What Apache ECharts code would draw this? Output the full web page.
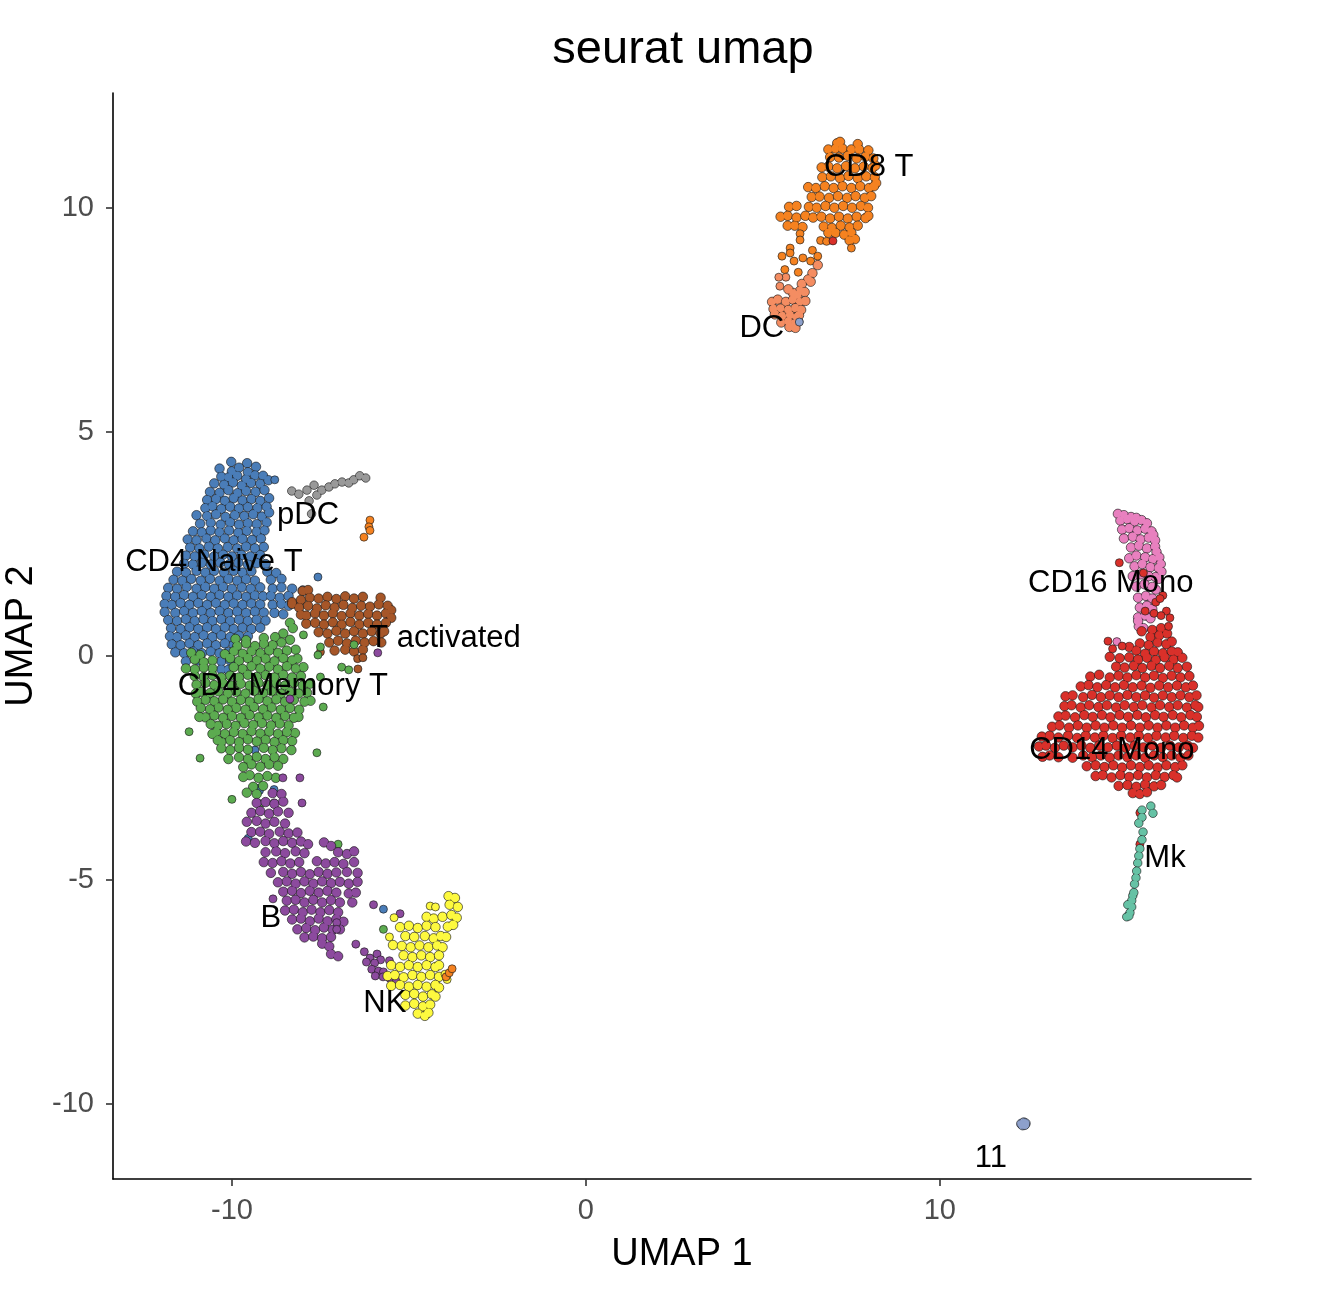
<!DOCTYPE html>
<html><head><meta charset="utf-8"><title>seurat umap</title>
<script src="https://cdn.jsdelivr.net/npm/echarts@6/dist/echarts.min.js"></script>
<style>html,body{margin:0;padding:0;background:#fff}#c{width:1338px;height:1304px;filter:blur(0.7px)}</style></head>
<body><div id="c"></div>
<script>
const titleText = 'seurat umap';
const xTicks = [-10, 0, 10];
const yTicks = [-10, -5, 0, 5, 10];
const labelNames = ['pDC','CD4 Naive T','T activated','CD4 Memory T','B','NK','DC','CD8 T','CD16 Mono','CD14 Mono','Mk','11'];
const labelX = [-7.85,-10.51,-3.98,-8.56,-8.9,-5.68,4.97,7.99,14.83,14.86,16.36,11.44];
const labelY = [3.13,2.08,0.38,-0.69,-5.86,-7.76,7.3,10.89,1.61,-2.11,-4.52,-11.22];

const cd4Naive = [[-10.02,4.33],[-9.57,4.3],[-9.32,4.22],[-10.35,4.18],[-10.0,4.12],[-9.8,4.2],[-9.55,4.1],[-10.3,4.0],[-10.1,3.98],[-9.85,4.02],[-9.6,3.94],[-9.35,4.03],[-9.12,4.02],
[-10.5,3.85],[-10.22,3.82],[-9.97,3.87],[-9.72,3.8],[-9.46,3.86],[-9.2,3.84],[-8.97,3.92],[-10.62,3.66],[-10.35,3.64],[-10.1,3.7],[-9.84,3.63],[-9.6,3.68],[-9.33,3.66],[-9.08,3.7],
[-10.7,3.48],[-10.45,3.5],[-10.2,3.46],[-9.95,3.52],[-9.7,3.47],[-9.45,3.5],[-9.2,3.46],[-8.95,3.52],[-10.75,3.3],[-10.55,3.34],[-10.3,3.28],[-10.05,3.33],[-9.8,3.29],[-9.55,3.32],[-9.28,3.3],[-9.02,3.33],
[-11.0,3.14],[-10.7,3.12],[-10.45,3.16],[-10.18,3.1],[-9.92,3.14],[-9.65,3.12],[-9.4,3.16],[-9.15,3.11],[-8.95,3.2],[-10.9,2.95],[-10.6,2.97],[-10.32,2.93],[-10.05,2.98],[-9.8,2.93],[-9.55,2.96],[-9.3,2.94],[-9.02,2.98],
[-11.1,2.78],[-10.85,2.76],[-10.6,2.8],[-10.35,2.76],[-10.08,2.8],[-9.82,2.75],[-9.58,2.79],[-9.3,2.77],[-9.08,2.8],[-11.25,2.6],[-11.0,2.58],[-10.72,2.62],[-10.47,2.58],[-10.2,2.62],[-9.95,2.58],[-9.7,2.61],[-9.43,2.59],[-9.18,2.62],
[-11.18,2.42],[-10.92,2.4],[-10.65,2.44],[-10.4,2.4],[-10.12,2.43],[-9.85,2.4],[-9.6,2.44],[-9.35,2.4],[-9.1,2.43],[-11.3,2.24],[-11.05,2.22],[-10.78,2.26],[-10.5,2.22],[-10.25,2.26],[-10.0,2.22],[-9.73,2.25],[-9.48,2.22],[-9.2,2.25],
[-11.35,2.06],[-11.1,2.04],[-10.85,2.08],[-10.6,2.04],[-10.33,2.08],[-10.08,2.04],[-9.82,2.08],[-9.55,2.04],[-9.3,2.07],[-9.05,2.05],[-11.55,1.88],[-11.3,1.86],[-11.0,1.9],[-10.75,1.86],[-10.5,1.9],[-10.22,1.86],[-9.95,1.9],[-9.7,1.86],[-9.45,1.89],[-9.0,1.88],[-8.75,1.85],
[-11.65,1.7],[-11.4,1.68],[-11.15,1.72],[-10.88,1.68],[-10.62,1.72],[-10.35,1.68],[-10.1,1.72],[-9.85,1.68],[-9.6,1.71],[-9.35,1.68],[-8.9,1.7],[-8.6,1.72],
[-11.8,1.52],[-11.55,1.5],[-11.28,1.54],[-11.0,1.5],[-10.75,1.54],[-10.5,1.5],[-10.25,1.54],[-10.0,1.5],[-9.72,1.53],[-9.47,1.5],[-9.2,1.53],[-8.85,1.5],[-8.6,1.53],[-8.3,1.5],[-8.0,1.46],
[-11.85,1.34],[-11.6,1.32],[-11.35,1.36],[-11.1,1.32],[-10.85,1.36],[-10.6,1.32],[-10.35,1.36],[-10.1,1.32],[-9.85,1.35],[-9.6,1.32],[-9.35,1.35],[-9.12,1.33],[-8.9,1.34],[-8.65,1.3],[-8.4,1.34],
[-11.9,1.16],[-11.7,1.14],[-11.45,1.18],[-11.2,1.14],[-10.95,1.18],[-10.7,1.14],[-10.45,1.18],[-10.2,1.14],[-9.95,1.17],[-9.7,1.14],[-9.45,1.17],[-9.2,1.15],[-8.85,1.14],[-8.6,1.16],[-8.4,1.12],
[-11.9,0.98],[-11.6,0.96],[-11.35,1.0],[-11.1,0.96],[-10.85,1.0],[-10.6,0.96],[-10.35,1.0],[-10.1,0.96],[-9.85,0.99],[-9.6,0.96],[-9.35,0.99],[-9.1,0.97],[-8.8,0.96],[-8.55,0.93],
[-11.8,0.8],[-11.55,0.78],[-11.3,0.82],[-11.05,0.78],[-10.8,0.82],[-10.55,0.78],[-10.3,0.82],[-10.05,0.78],[-9.8,0.81],[-9.55,0.78],[-9.3,0.81],[-9.05,0.79],
[-11.72,0.62],[-11.45,0.6],[-11.2,0.64],[-10.95,0.6],[-10.7,0.64],[-10.45,0.6],[-10.2,0.64],[-9.95,0.6],[-9.7,0.63],[-9.45,0.6],[-9.2,0.63],[-11.75,0.44],[-11.55,0.42],[-11.3,0.46],[-11.05,0.42],[-10.8,0.46],[-10.55,0.42],[-10.3,0.46],[-10.05,0.42],[-9.8,0.45],[-9.55,0.44],
[-11.7,0.26],[-11.45,0.24],[-11.2,0.28],[-10.95,0.24],[-10.7,0.28],[-10.45,0.24],[-10.2,0.28],[-9.95,0.25],[-11.6,0.08],[-11.35,0.06],[-11.1,0.1],[-10.85,0.06],[-10.6,0.1],[-10.35,0.06],[-10.1,0.09],[-11.3,-0.12],[-10.95,-0.1],[-10.3,-0.12],[-10.05,-0.1],[-10.3,-0.3],[-10.1,-0.31]];
const cd4NaiveStray = [[-8.79,3.93],[-7.57,1.76],[-9.35,-2.1],[-9.3,-2.95],[-9.22,-3.0],[-9.54,-4.07],[-5.72,-5.65],[-8.81,-2.98]];

const tActivated = [[-8.0,1.45],[-7.85,1.47],[-8.3,1.2],[-8.05,1.25],[-7.8,1.3],[-7.55,1.28],[-7.3,1.32],[-7.05,1.27],[-6.8,1.33],[-6.55,1.28],[-6.3,1.32],[-5.8,1.3],
[-8.3,1.16],[-8.1,1.08],[-7.85,1.12],[-7.6,1.06],[-7.35,1.13],[-7.1,1.08],[-6.85,1.14],[-6.6,1.07],[-6.35,1.12],[-6.1,1.1],[-5.85,1.15],[-5.6,1.12],[-5.5,1.02],
[-8.05,0.92],[-7.9,0.9],[-7.65,0.95],[-7.4,0.9],[-7.15,0.95],[-6.9,0.89],[-6.65,0.95],[-6.4,0.9],[-6.15,0.94],[-5.9,0.9],[-5.65,0.95],[-5.5,0.85],
[-7.9,0.72],[-7.65,0.74],[-7.4,0.7],[-7.15,0.75],[-6.9,0.7],[-6.65,0.76],[-6.4,0.7],[-6.15,0.74],[-5.9,0.7],[-5.65,0.74],[-7.55,0.53],[-7.3,0.5],[-7.05,0.56],[-6.8,0.5],[-6.55,0.55],[-6.3,0.5],[-6.05,0.55],[-5.8,0.5],[-5.7,0.55],
[-7.25,0.3],[-7.0,0.34],[-6.75,0.28],[-6.5,0.34],[-6.25,0.3],[-6.0,0.33],[-5.78,0.3],[-7.1,0.12],[-6.8,0.14],[-6.55,0.1],[-6.3,0.14]];
const tActivatedStray = [[-6.45,-0.06],[-6.3,-0.04],[-6.44,-0.29],[-7.5,0.09]];

const pDC = [[-8.31,3.68],[-8.11,3.61],[-7.88,3.7],[-7.68,3.81],[-7.6,3.59],[-7.46,3.7],[-7.26,3.77],[-7.09,3.84],[-6.89,3.88],[-6.7,3.86],[-6.56,3.93],[-6.39,4.02],[-6.22,3.97],[-7.82,3.46],[-7.75,3.17]];

const cd4Memory = [[-8.36,0.74],[-8.28,0.62],[-8.55,0.5],[-8.78,0.42],[-9.1,0.4],[-9.6,0.35],[-9.9,0.38],[-8.36,0.36],[-8.6,0.3],[-8.85,0.24],[-9.1,0.27],[-9.35,0.22],[-9.6,0.28],[-9.85,0.22],
[-8.2,0.14],[-8.45,0.12],[-8.7,0.07],[-8.95,0.12],[-9.2,0.06],[-9.45,0.1],[-9.7,0.05],[-9.95,0.1],[-10.2,0.04],[-10.9,0.02],[-11.15,0.07],
[-8.15,-0.06],[-8.3,-0.1],[-8.55,-0.05],[-8.8,-0.12],[-9.05,-0.06],[-9.3,-0.1],[-9.55,-0.05],[-9.8,-0.11],[-10.05,-0.05],[-10.55,-0.1],[-10.8,-0.14],[-11.05,-0.08],
[-7.98,-0.25],[-8.2,-0.28],[-8.45,-0.23],[-8.7,-0.3],[-8.95,-0.24],[-9.2,-0.28],[-9.45,-0.23],[-9.7,-0.29],[-9.95,-0.25],[-10.55,-0.28],[-10.8,-0.26],[-11.05,-0.3],[-11.3,-0.28],
[-8.05,-0.45],[-8.3,-0.48],[-8.55,-0.42],[-8.8,-0.48],[-9.05,-0.43],[-9.3,-0.47],[-9.55,-0.42],[-9.8,-0.48],[-10.05,-0.44],[-10.3,-0.48],[-10.55,-0.43],[-10.8,-0.47],[-11.05,-0.45],
[-7.8,-0.62],[-8.0,-0.66],[-8.25,-0.6],[-8.5,-0.66],[-8.75,-0.61],[-9.0,-0.65],[-9.25,-0.6],[-9.5,-0.66],[-9.75,-0.62],[-10.0,-0.66],[-10.25,-0.61],[-10.5,-0.65],[-10.75,-0.6],[-11.0,-0.64],
[-7.88,-0.82],[-8.12,-0.84],[-8.36,-0.8],[-8.62,-0.84],[-8.88,-0.79],[-9.12,-0.83],[-9.38,-0.78],[-9.62,-0.84],[-9.88,-0.8],[-10.12,-0.84],[-10.38,-0.79],[-10.62,-0.83],[-10.88,-0.8],[-11.02,-0.84],
[-7.78,-1.0],[-7.95,-1.02],[-8.25,-0.98],[-8.5,-1.02],[-8.75,-0.97],[-9.0,-1.01],[-9.25,-0.96],[-9.5,-1.02],[-9.75,-0.98],[-10.0,-1.02],[-10.25,-0.97],[-10.5,-1.01],[-10.75,-0.98],[-10.98,-1.02],
[-8.1,-1.2],[-8.36,-1.16],[-8.62,-1.2],[-8.88,-1.15],[-9.12,-1.19],[-9.38,-1.14],[-9.62,-1.2],[-9.88,-1.16],[-10.12,-1.2],[-10.38,-1.15],[-10.62,-1.19],[-10.88,-1.16],
[-8.12,-1.36],[-8.25,-1.38],[-8.5,-1.34],[-8.75,-1.38],[-9.0,-1.33],[-9.25,-1.37],[-9.5,-1.32],[-9.75,-1.38],[-10.0,-1.34],[-10.25,-1.38],[-10.5,-1.33],[-10.75,-1.37],[-10.92,-1.36],
[-8.4,-1.55],[-8.65,-1.51],[-8.9,-1.55],[-9.15,-1.5],[-9.4,-1.54],[-9.65,-1.5],[-9.9,-1.56],[-10.15,-1.52],[-10.4,-1.56],[-10.6,-1.52],[-8.22,-1.72],[-8.45,-1.7],[-8.7,-1.74],[-8.95,-1.69],[-9.2,-1.73],[-9.45,-1.68],[-9.7,-1.74],[-9.95,-1.7],[-10.2,-1.74],[-10.45,-1.7],[-10.55,-1.74],
[-8.3,-1.9],[-8.55,-1.88],[-8.8,-1.92],[-9.05,-1.87],[-9.3,-1.91],[-9.55,-1.86],[-9.8,-1.92],[-10.05,-1.88],[-10.3,-1.92],[-10.4,-1.88],[-8.32,-2.1],[-8.6,-2.06],[-8.85,-2.1],[-9.1,-2.05],[-9.55,-2.09],[-9.8,-2.05],[-10.05,-2.1],[-10.3,-2.06],
[-8.55,-2.3],[-8.8,-2.26],[-9.05,-2.3],[-9.3,-2.25],[-9.55,-2.3],[-9.8,-2.26],[-10.1,-2.3],[-8.7,-2.45],[-8.95,-2.42],[-9.2,-2.47],[-9.45,-2.42],[-9.68,-2.48],[-8.76,-2.72],[-9.0,-2.68],[-9.25,-2.72],[-9.5,-2.66],[-9.68,-2.7],[-9.12,-2.9],[-9.4,-2.92],[-9.58,-3.05],[-9.3,-3.08]];
const cd4MemoryStray = [[-11.21,-1.69],[-10.9,-2.28],[-7.6,-2.16],[-7.42,-1.14],[-7.5,-0.47],[-7.98,0.47],[-7.57,0.02],[-7.5,0.2],[-6.9,-0.25],[-6.7,-0.31],[-6.55,0.25],[-10.0,-3.2],[-8.81,-3.28],[-7.0,-4.2],[-5.72,-6.1],[-9.2,-3.3]];

const bCells = [[-8.85,-3.06],[-8.6,-3.08],[-9.3,-3.28],[-9.05,-3.26],[-8.8,-3.3],[-8.55,-3.25],[-9.45,-3.5],[-9.2,-3.46],[-8.95,-3.52],[-8.7,-3.47],[-8.4,-3.5],[-9.58,-3.7],[-9.3,-3.68],[-9.05,-3.74],[-8.8,-3.7],[-8.5,-3.74],[-9.45,-3.93],[-9.2,-3.92],[-8.95,-3.97],[-8.65,-3.92],[-8.4,-3.96],[-8.15,-3.94],
[-9.6,-4.14],[-9.35,-4.17],[-9.05,-4.13],[-8.8,-4.18],[-8.55,-4.13],[-8.3,-4.17],[-8.05,-4.14],[-7.85,-4.2],[-7.4,-4.16],[-7.2,-4.24],[-9.05,-4.38],[-8.75,-4.36],[-8.5,-4.4],[-8.2,-4.36],[-7.95,-4.4],[-7.0,-4.38],[-6.75,-4.42],[-6.55,-4.36],
[-9.1,-4.6],[-8.85,-4.62],[-8.6,-4.58],[-8.35,-4.63],[-8.1,-4.6],[-7.6,-4.58],[-7.35,-4.63],[-7.1,-4.6],[-6.85,-4.64],[-6.55,-4.6],[-8.9,-4.84],[-8.55,-4.82],[-8.3,-4.86],[-8.05,-4.82],[-7.8,-4.87],[-7.55,-4.82],[-7.3,-4.86],[-7.05,-4.83],[-6.75,-4.82],[-6.45,-4.84],
[-8.7,-5.05],[-8.45,-5.03],[-8.2,-5.08],[-7.95,-5.03],[-7.7,-5.08],[-7.45,-5.03],[-7.2,-5.07],[-6.95,-5.04],[-6.7,-5.08],[-6.45,-5.04],[-8.55,-5.26],[-8.3,-5.24],[-8.05,-5.29],[-7.8,-5.24],[-7.55,-5.28],[-7.3,-5.24],[-7.05,-5.28],[-6.7,-5.3],[-6.5,-5.28],
[-8.45,-5.46],[-8.2,-5.44],[-7.95,-5.5],[-7.7,-5.44],[-7.45,-5.5],[-7.2,-5.45],[-6.95,-5.5],[-6.6,-5.5],[-8.5,-5.68],[-8.25,-5.66],[-8.0,-5.72],[-7.75,-5.66],[-7.5,-5.72],[-7.25,-5.67],[-7.0,-5.72],[-8.3,-5.88],[-8.05,-5.86],[-7.8,-5.92],[-7.55,-5.86],[-7.3,-5.92],[-7.05,-5.87],[-6.85,-5.93],
[-8.15,-6.1],[-7.9,-6.07],[-7.65,-6.12],[-7.4,-6.06],[-7.15,-6.11],[-6.95,-6.1],[-7.95,-6.28],[-7.7,-6.26],[-7.45,-6.3],[-7.2,-6.27],[-7.45,-6.42],[-7.25,-6.48],[-7.2,-6.65],[-7.0,-6.7]];
const bStray = [[-8.84,-5.42],[-7.04,-5.95],[-7.04,-6.1],[-6.5,-6.43],[-6.26,-6.6],[-6.1,-6.74],[-6.2,-6.83],[-5.9,-6.65],[-5.8,-6.78],[-5.97,-6.85],[-6.05,-6.99],[-5.86,-7.03],[-5.72,-7.05],[-5.95,-7.14],[-5.73,-7.16],[-5.53,-7.2],[-5.35,-7.23],[-6.0,-5.55],[-5.25,-5.75],[-5.55,-6.8],[-5.88,0.07],[-8.36,-0.96],[-8.02,-3.28],[-8.56,-2.72],[-8.08,-2.72]];

const nkCells = [[-3.88,-5.36],[-3.7,-5.4],[-3.85,-5.55],[-3.62,-5.6],[-4.5,-5.82],[-4.3,-5.86],[-4.05,-5.82],[-3.8,-5.78],[-3.65,-5.84],
[-5.25,-6.05],[-5.0,-6.02],[-4.75,-6.07],[-4.5,-6.02],[-4.25,-6.05],[-3.9,-6.04],[-3.75,-6.0],[-5.1,-6.25],[-4.85,-6.27],[-4.55,-6.25],[-4.3,-6.3],[-4.1,-6.25],[-3.95,-6.27],
[-5.45,-6.45],[-5.2,-6.47],[-4.95,-6.5],[-4.7,-6.46],[-4.45,-6.5],[-4.2,-6.46],[-4.05,-6.5],[-5.15,-6.68],[-4.9,-6.72],[-4.65,-6.68],[-4.4,-6.72],[-4.15,-6.68],[-5.5,-6.9],[-5.25,-6.94],[-5.0,-6.9],[-4.75,-6.94],[-4.5,-6.9],[-4.25,-6.94],[-4.15,-6.9],
[-5.6,-7.14],[-5.4,-7.12],[-5.15,-7.17],[-4.9,-7.12],[-4.65,-7.16],[-4.4,-7.12],[-4.15,-7.16],[-5.5,-7.36],[-5.25,-7.34],[-5.0,-7.38],[-4.75,-7.34],[-4.5,-7.38],[-4.25,-7.34],[-4.15,-7.4],[-5.1,-7.56],[-4.85,-7.54],[-4.6,-7.6],[-4.35,-7.55],[-4.25,-7.6],
[-5.1,-7.8],[-4.85,-7.76],[-4.6,-7.82],[-4.4,-7.78],[-4.75,-7.98],[-4.55,-8.03],[-4.45,-7.96]];
const nkStray = [[-4.4,-5.58],[-4.25,-5.6],[-5.42,-5.84],[-5.55,-6.27],[-3.98,-7.1],[-3.92,-7.22]];

const cd8T = [[7.1,11.44],[7.18,11.47],[7.68,11.42],[6.85,11.3],[7.05,11.32],[7.25,11.32],[7.5,11.3],[7.72,11.3],[7.98,11.28],[6.9,11.13],[7.15,11.12],[7.4,11.16],[7.65,11.1],[7.9,11.14],[8.12,11.1],
[6.66,10.9],[6.85,10.92],[7.1,10.88],[7.35,10.93],[7.6,10.88],[7.85,10.92],[8.1,10.89],[8.18,10.94],[6.68,10.68],[6.92,10.7],[7.18,10.66],[7.42,10.71],[7.68,10.66],[7.92,10.7],[8.16,10.68],[8.2,10.55],
[6.28,10.46],[6.5,10.44],[6.75,10.48],[7.0,10.44],[7.25,10.48],[7.5,10.44],[7.75,10.48],[8.0,10.44],[8.14,10.48],[6.38,10.24],[6.6,10.25],[6.87,10.22],[7.12,10.26],[7.38,10.22],[7.62,10.26],[7.88,10.22],[8.06,10.26],
[5.74,10.02],[5.95,10.04],[6.3,10.02],[6.52,10.0],[6.77,10.04],[7.02,10.0],[7.27,10.04],[7.52,10.0],[7.77,10.04],[7.97,10.0],[5.5,9.8],[5.7,9.82],[5.95,9.78],[6.2,9.82],[6.42,9.78],[6.65,9.8],[6.9,9.76],[7.15,9.8],[7.4,9.76],[7.65,9.8],[7.9,9.77],[7.98,9.82],
[5.7,9.6],[5.9,9.6],[6.12,9.57],[6.72,9.58],[6.95,9.55],[7.2,9.6],[7.45,9.56],[7.68,9.6],[6.85,9.44],[7.05,9.44],[7.3,9.4],[7.5,9.44],[7.6,9.3],[7.45,9.27]];
const cd8TStray = [[6.05,9.42],[6.05,9.28],[6.63,9.27],[6.8,9.25],[7.5,9.1],[5.77,9.1],[5.77,8.99],[5.54,8.92],[5.88,8.81],[6.13,8.88],[5.62,8.62],[6.0,8.56],[6.4,9.05],[6.55,8.92],[6.35,8.81]];
const dcCells = [[6.55,8.72],[6.4,8.54],[6.28,8.4],[6.1,8.3],[6.35,8.35],[6.05,8.15],[5.85,8.1],[5.72,8.18],[5.98,8.05],[6.18,8.12],
[5.26,7.9],[5.42,7.95],[5.65,7.9],[5.85,7.95],[6.05,7.9],[6.2,7.92],[5.3,7.74],[5.5,7.75],[5.72,7.72],[5.92,7.76],[6.08,7.72],[5.34,7.62],[5.55,7.58],[5.77,7.6],[5.95,7.56],[6.02,7.6],[5.52,7.44],[5.72,7.46],[5.9,7.42],[6.0,7.46],[5.75,7.34],[5.92,7.32]];
const dcStray = [[5.65,8.45],[5.45,8.45],[5.48,8.25]];
const cluster11 = [[12.3,-10.44],[12.37,-10.41],[12.42,-10.43],[12.34,-10.47],[12.4,-10.46]];
const cluster11Stray = [[6.03,7.45]];

const cd16Mono = [[15.03,3.17],[15.2,3.14],[15.4,3.1],[15.55,3.08],[15.1,3.02],[15.3,3.05],[15.5,3.0],[15.7,3.03],[15.85,2.96],[15.15,2.82],[15.35,2.85],[15.58,2.8],[15.8,2.84],[15.98,2.78],[16.03,2.7],[15.2,2.62],[15.45,2.66],[15.67,2.6],[15.9,2.64],[16.08,2.58],
[15.4,2.42],[15.62,2.46],[15.85,2.4],[16.08,2.44],[16.12,2.32],[15.35,2.18],[15.55,2.24],[15.8,2.2],[16.02,2.16],[16.2,2.2],[16.24,2.05],[15.5,2.0],[15.72,2.05],[15.95,1.98],[16.18,1.96],[16.26,1.88],[15.45,1.78],[15.68,1.82],[15.9,1.78],[16.1,1.76],[16.18,1.72],
[15.55,1.55],[15.78,1.6],[16.0,1.54],[16.1,1.48],[15.6,1.3],[15.82,1.34],[16.0,1.28],[15.65,1.08],[15.85,1.12],[16.0,1.05],[15.6,0.86],[15.8,0.9],[15.95,0.84],[15.62,0.66],[15.75,0.62],[15.6,0.78]];
const cd16MonoStray = [[15.0,0.32]];
const cd14Mono = [[16.0,0.58],[16.25,0.62],[15.7,0.55],[15.95,0.42],[16.2,0.46],[16.42,0.5],
[15.65,0.28],[15.9,0.24],[16.15,0.3],[16.4,0.26],[16.55,0.32],[15.35,0.2],[15.55,0.12],[15.8,0.05],[16.05,0.1],[16.3,0.06],[16.55,0.1],[16.72,0.08],[14.8,-0.02],[15.08,-0.05],[15.35,-0.03],[15.6,-0.08],[15.85,-0.04],[16.1,-0.09],[16.35,-0.03],[16.6,-0.08],[16.85,-0.04],
[14.98,-0.24],[15.22,-0.26],[15.48,-0.22],[15.72,-0.27],[15.98,-0.22],[16.22,-0.27],[16.48,-0.22],[16.72,-0.27],[16.98,-0.24],[14.25,-0.46],[14.5,-0.42],[14.8,-0.48],[15.05,-0.44],[15.3,-0.48],[15.55,-0.43],[15.8,-0.48],[16.05,-0.44],[16.3,-0.49],[16.55,-0.44],[16.8,-0.48],[17.05,-0.45],
[13.98,-0.68],[14.2,-0.65],[14.45,-0.7],[14.7,-0.65],[14.95,-0.7],[15.2,-0.65],[15.45,-0.7],[15.7,-0.66],[15.95,-0.71],[16.2,-0.66],[16.45,-0.7],[16.7,-0.66],[16.95,-0.7],[17.15,-0.66],[13.55,-0.9],[13.75,-0.88],[14.05,-0.92],[14.3,-0.87],[14.55,-0.92],[14.8,-0.88],[15.05,-0.92],[15.3,-0.87],[15.55,-0.92],[15.8,-0.88],[16.05,-0.93],[16.3,-0.88],[16.55,-0.92],[16.8,-0.88],[17.05,-0.92],[17.25,-0.88],
[13.52,-1.12],[13.72,-1.1],[13.98,-1.15],[14.22,-1.1],[14.48,-1.14],[14.72,-1.1],[14.98,-1.15],[15.22,-1.1],[15.48,-1.14],[15.72,-1.1],[15.98,-1.15],[16.22,-1.1],[16.48,-1.14],[16.72,-1.1],[16.98,-1.15],[17.22,-1.1],[17.3,-1.14],
[13.35,-1.35],[13.55,-1.33],[13.82,-1.37],[14.08,-1.32],[14.32,-1.36],[14.58,-1.32],[14.82,-1.37],[15.08,-1.32],[15.32,-1.36],[15.58,-1.32],[15.82,-1.37],[16.08,-1.32],[16.32,-1.36],[16.58,-1.32],[16.82,-1.37],[17.08,-1.32],[17.26,-1.36],
[13.17,-1.58],[13.38,-1.55],[13.65,-1.6],[13.9,-1.55],[14.15,-1.6],[14.4,-1.55],[14.65,-1.6],[14.9,-1.55],[15.15,-1.6],[15.4,-1.55],[15.65,-1.6],[15.9,-1.55],[16.15,-1.6],[16.4,-1.55],[16.65,-1.6],[16.9,-1.55],[17.15,-1.6],[17.32,-1.56],
[12.88,-1.8],[13.1,-1.78],[13.35,-1.82],[13.62,-1.78],[13.88,-1.83],[14.12,-1.78],[14.38,-1.82],[14.62,-1.78],[14.88,-1.83],[15.12,-1.78],[15.38,-1.82],[15.62,-1.78],[15.88,-1.83],[16.12,-1.78],[16.38,-1.82],[16.62,-1.78],[16.88,-1.83],[17.12,-1.78],[17.3,-1.82],
[12.8,-2.02],[13.0,-2.0],[13.25,-2.05],[13.5,-2.0],[13.75,-2.04],[14.0,-2.0],[14.25,-2.05],[14.5,-2.0],[14.75,-2.04],[15.0,-2.0],[15.25,-2.05],[15.5,-2.0],[15.75,-2.04],[16.0,-2.0],[16.25,-2.05],[16.5,-2.0],[16.75,-2.04],[17.0,-2.0],[17.15,-2.05],
[12.9,-2.25],[13.1,-2.22],[13.35,-2.26],[13.75,-2.27],[14.05,-2.22],[14.3,-2.26],[14.55,-2.22],[14.8,-2.27],[15.05,-2.22],[15.3,-2.26],[15.55,-2.22],[15.8,-2.27],[16.05,-2.22],[16.3,-2.26],[16.55,-2.22],[16.8,-2.27],[17.02,-2.22],[14.15,-2.46],[14.4,-2.44],[14.65,-2.48],[14.9,-2.44],[15.15,-2.49],[15.4,-2.44],[15.65,-2.48],[15.9,-2.44],[16.15,-2.49],[16.4,-2.44],[16.65,-2.48],[16.85,-2.44],
[14.4,-2.68],[14.6,-2.66],[14.85,-2.71],[15.1,-2.66],[15.35,-2.7],[15.6,-2.66],[15.85,-2.71],[16.1,-2.66],[16.35,-2.7],[16.6,-2.66],[16.7,-2.71],[15.05,-2.9],[15.3,-2.88],[15.55,-2.92],[15.8,-2.87],[16.05,-2.91],[16.25,-2.88],[15.45,-3.06],[15.65,-3.08],[15.85,-3.04]];
const cd14MonoStray = [[16.46,0.66],[16.05,0.95],[16.4,1.0],[16.25,0.9],[16.1,1.2],[16.5,0.85],[15.07,2.08],[15.75,1.85],[16.3,1.35],[16.22,1.28],[15.8,1.0],[15.65,-3.5],[15.65,-4.2],[6.98,9.26],[15.15,0.22],[14.88,0.16],[14.75,0.33]];

const mkCells = [[15.96,-3.35],[16.02,-3.51],[15.71,-3.44],[15.71,-3.6],[15.62,-3.73],[15.74,-3.93],[15.71,-4.1],[15.65,-4.3],[15.62,-4.46],[15.59,-4.62],[15.56,-4.8],[15.54,-4.95],[15.5,-5.09],[15.45,-5.35],[15.42,-5.46],[15.42,-5.6],[15.31,-5.55],[15.37,-5.73],[15.28,-5.82],[15.34,-5.8],[15.48,-5.28]];
const orangeStray = [[-6.1,3.03],[-6.13,2.88],[-6.1,2.8],[-6.27,2.65],[-3.95,-7.16],[-3.86,-7.07],[-3.78,-6.98]];

const dark = 'rgba(25,25,25,0.8)';
const layer = (data, color, size, border) => ({
  type: 'scatter', data, symbolSize: size, clip: false, animation: false, silent: true,
  itemStyle: { color, borderColor: border ? dark : color, borderWidth: border ? 0.8 : 0, opacity: 1 }
});
const blob = (data, color) => [layer(data, color, 9.5, true), layer(data, color, 7.2, false)];
const thin = (data, color) => [layer(data, color, 8.5, true), layer(data, color, 6.6, false)];
const dots = (data, color) => [layer(data, color, 8, true)];

const chart = echarts.init(document.getElementById('c'), null, { renderer: 'canvas' });
chart.setOption({
  animation: false,
  backgroundColor: '#ffffff',
  title: { text: titleText, left: 678, top: 22, textAlign: 'center',
    textStyle: { fontFamily: 'Liberation Sans', fontSize: 47, fontWeight: 'normal', color: '#000' } },
  grid: { left: 113, right: 87, top: 93, bottom: 125, outerBoundsMode: 'none', containLabel: false },
  xAxis: { type: 'value', min: -13.36, max: 18.79, name: 'UMAP 1', nameLocation: 'middle', nameGap: 57,
    nameTextStyle: { fontFamily: 'Liberation Sans', fontSize: 38, color: '#000' },
    axisLine: { show: true, onZero: false, lineStyle: { color: '#000', width: 1.6 } },
    axisTick: { show: true, length: 7, customValues: xTicks, lineStyle: { color: '#333', width: 1.6 } },
    axisLabel: { customValues: xTicks, fontFamily: 'Liberation Sans', fontSize: 29, color: '#4d4d4d', margin: 17 },
    splitLine: { show: false } },
  yAxis: { type: 'value', min: -11.67, max: 12.56, name: 'UMAP 2', nameLocation: 'middle', nameGap: 72,
    nameTextStyle: { fontFamily: 'Liberation Sans', fontSize: 38, color: '#000' },
    axisLine: { show: true, onZero: false, lineStyle: { color: '#000', width: 1.6 } },
    axisTick: { show: true, length: 7, customValues: yTicks, lineStyle: { color: '#333', width: 1.6 } },
    axisLabel: { customValues: yTicks, fontFamily: 'Liberation Sans', fontSize: 29, color: '#4d4d4d', margin: 19, padding: [4, 0, 0, 0] },
    splitLine: { show: false } },
  series: [
    ...blob(cd4Naive, '#4a7db8'), ...dots(cd4NaiveStray, '#4a7db8'),
    ...blob(tActivated, '#a65628'), ...dots(tActivatedStray, '#a65628'),
    ...thin(pDC, '#999999'),
    ...blob(cd4Memory, '#5cab50'), ...dots(cd4MemoryStray, '#5cab50'),
    ...blob(bCells, '#8c4a9e'), ...dots(bStray, '#8c4a9e'),
    ...blob(nkCells, '#fdf93f'), ...dots(nkStray, '#fdf93f'),
    ...blob(cd8T, '#f58220'), ...dots(cd8TStray, '#f58220'),
    ...blob(dcCells, '#f48d62'), ...dots(dcStray, '#f48d62'),
    ...blob(cluster11, '#8da0cb'), ...dots(cluster11Stray, '#8da0cb'),
    ...blob(cd16Mono, '#e880bf'), ...dots(cd16MonoStray, '#e880bf'),
    ...blob(cd14Mono, '#d9302a'), ...dots(cd14MonoStray, '#d9302a'),
    ...thin(mkCells, '#66c2a5'),
    ...dots(orangeStray, '#f58220'),
    { type: 'scatter', silent: true, animation: false, clip: false, symbolSize: 1,
      itemStyle: { color: 'rgba(0,0,0,0)' }, z: 10,
      data: labelNames.map((n, i) => ({ name: n, value: [labelX[i], labelY[i]] })),
      label: { show: true, position: 'inside', formatter: '{b}', fontFamily: 'Liberation Sans', fontSize: 31, color: '#000', textBorderWidth: 0, opacity: 1 } }
  ]
});
</script></body></html>
